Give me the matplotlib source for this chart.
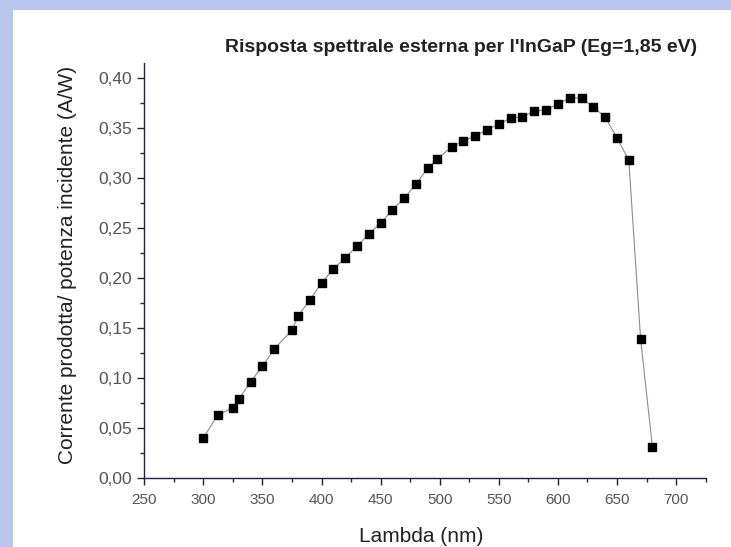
import matplotlib
matplotlib.use("Agg")
import matplotlib.pyplot as plt
from matplotlib.ticker import MultipleLocator, FuncFormatter
from matplotlib.patches import Rectangle

plt.rcParams['font.family'] = ['Liberation Sans', 'DejaVu Sans']

lam = [300, 312, 325, 330, 340, 350, 360, 375, 380, 390, 400, 410, 420, 430,
       440, 450, 460, 470, 480, 490, 498, 510, 520, 530, 540, 550, 560, 570,
       580, 590, 600, 610, 620, 630, 640, 650, 660, 670, 680]
resp = [0.040, 0.063, 0.070, 0.079, 0.096, 0.112, 0.129, 0.148, 0.162, 0.178,
        0.195, 0.209, 0.220, 0.232, 0.244, 0.255, 0.268, 0.280, 0.294, 0.310,
        0.319, 0.331, 0.337, 0.342, 0.348, 0.354, 0.360, 0.361, 0.367, 0.368,
        0.374, 0.380, 0.380, 0.371, 0.361, 0.340, 0.318, 0.139, 0.031]

title = "Risposta spettrale esterna per l'InGaP (Eg=1,85 eV)"
xlabel = "Lambda (nm)"
ylabel = "Corrente prodotta/ potenza incidente (A/W)"

W, H = 731, 547
fig = plt.figure(figsize=(W / 100, H / 100), dpi=100, facecolor='white')

# blue border strips (page background)
bg = '#b9c6ee'
fig.patches.append(Rectangle((0, 0), 13 / W, 1, transform=fig.transFigure,
                             facecolor=bg, edgecolor='none', zorder=0))
fig.patches.append(Rectangle((0, 1 - 10 / H), 1, 10 / H, transform=fig.transFigure,
                             facecolor=bg, edgecolor='none', zorder=0))

left, right, bottom, top = 144.3, 705.6, 478, 63
ax = fig.add_axes([left / W, 1 - bottom / H, (right - left) / W, (bottom - top) / H])
ax.set_facecolor('none')

ax.plot(lam, resp, color='#8a8a9a', lw=0.8, marker='s', ms=6,
        mfc='black', mec='black', zorder=3)

ax.set_xlim(250, 725)
ax.set_ylim(0, 0.415)
ax.spines['top'].set_visible(False)
ax.spines['right'].set_visible(False)
for s in ('left', 'bottom'):
    ax.spines[s].set_linewidth(1.0)
    ax.spines[s].set_color('#202040')

ax.xaxis.set_major_locator(MultipleLocator(50))
ax.xaxis.set_minor_locator(MultipleLocator(25))
ax.yaxis.set_major_locator(MultipleLocator(0.05))
ax.yaxis.set_minor_locator(MultipleLocator(0.025))
ax.yaxis.set_major_formatter(FuncFormatter(lambda v, p: f"{v:.2f}".replace('.', ',')))
ax.tick_params(which='major', direction='out', length=5, width=1.0, color='#202040',
               labelcolor='#555555')
ax.tick_params(which='minor', direction='out', length=3, width=1.0, color='#202040')
ax.tick_params(axis='x', pad=6, labelsize=11)
ax.tick_params(axis='y', pad=4, labelsize=12.5)

fig.text(461 / W, 1 - 47 / H, title, ha='center', va='center', fontsize=14,
         fontweight='bold', color='#222222')
fig.text(421 / W, 1 - 537 / H, xlabel, ha='center', va='center', fontsize=15,
         color='#222222')
fig.text(68 / W, 1 - 265 / H, ylabel, ha='center', va='center', rotation=90,
         fontsize=15, color='#222222')

fig.savefig('out.png', dpi=100, facecolor='white')
